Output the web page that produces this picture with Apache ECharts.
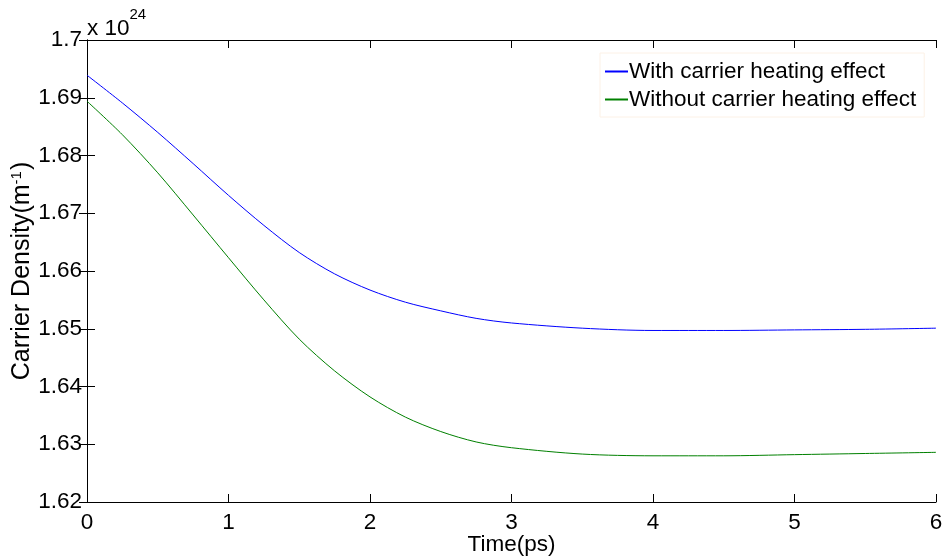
<!DOCTYPE html>
<html>
<head>
<meta charset="utf-8">
<script src="https://cdn.jsdelivr.net/npm/echarts@6/dist/echarts.min.js"></script>
<style>html,body{margin:0;padding:0;background:#fff}#c{width:946px;height:559px}</style>
</head>
<body>
<div id="c"></div>
<script>
const timePs = [0, 0.25, 0.5, 0.75, 1, 1.25, 1.5, 1.75, 2, 2.25, 2.5, 2.75, 3, 3.5, 4, 4.5, 5, 5.5, 6];
const withHeating = [1.6939, 1.6891, 1.6840, 1.6786, 1.6731, 1.6679, 1.6632, 1.6595, 1.6567, 1.6546, 1.6531, 1.6518, 1.6510, 1.6501, 1.6497, 1.6497, 1.6498, 1.6499, 1.6501];
const withoutHeating = [1.6894, 1.6836, 1.6770, 1.6697, 1.6623, 1.6550, 1.6482, 1.6427, 1.6382, 1.6347, 1.6322, 1.6304, 1.6294, 1.6283, 1.6280, 1.6280, 1.6282, 1.6284, 1.6286];
const seriesNames = ['With carrier heating effect', 'Without carrier heating effect'];
const xTicks = [0, 1, 2, 3, 4, 5, 6];
const yTicks = [1.62, 1.63, 1.64, 1.65, 1.66, 1.67, 1.68, 1.69, 1.7];

const FONT = "'Liberation Sans', Arial, sans-serif";
const FS = 22.5;
const chart = echarts.init(document.getElementById('c'), null, {renderer: 'canvas'});
const pair = (xs, ys) => xs.map((x, i) => [x, ys[i]]);
const axisCommon = {
  axisLine: {show: true, lineStyle: {color: '#000', width: 1}},
  axisTick: {show: true, inside: true, length: 8, lineStyle: {color: '#000', width: 1}},
  splitLine: {show: false}
};
chart.setOption({
  animation: false,
  backgroundColor: '#fff',
  textStyle: {fontFamily: FONT},
  grid: {left: 87, right: 10, top: 40, bottom: 57, containLabel: false, outerBoundsMode: 'none'},
  legend: {
    orient: 'vertical',
    left: 600, top: 53, width: 332,
    padding: [6, 8, 5, 5],
    borderColor: '#fcf1e6', borderWidth: 1,
    backgroundColor: '#fff',
    itemWidth: 23, itemHeight: 2, itemGap: 3,
    icon: 'rect',
    textStyle: {fontFamily: FONT, fontSize: FS, color: '#000', padding: [0, 0, 0, -4], lineHeight: 25},
    data: seriesNames
  },
  xAxis: [
    Object.assign({}, axisCommon, {
      type: 'value', min: xTicks[0], max: xTicks[xTicks.length - 1], interval: 1,
      position: 'bottom',
      name: 'Time(ps)', nameLocation: 'middle', nameGap: 31, nameMoveOverlap: false,
      nameTextStyle: {fontFamily: FONT, fontSize: FS, color: '#000'},
      axisLabel: {fontFamily: FONT, fontSize: FS, color: '#000', margin: 9}
    }),
    Object.assign({}, axisCommon, {
      type: 'value', min: xTicks[0], max: xTicks[xTicks.length - 1], interval: 1,
      position: 'top', axisLabel: {show: false}
    })
  ],
  yAxis: [
    Object.assign({}, axisCommon, {
      type: 'value', min: yTicks[0], max: yTicks[yTicks.length - 1], interval: 0.01,
      position: 'left',
      name: '{n|Carrier Density(m}{s|-1}{n|)}', nameLocation: 'middle', nameGap: 51, nameMoveOverlap: false,
      nameTextStyle: {fontFamily: FONT, fontSize: 25, color: '#000',
        rich: {n: {fontFamily: FONT, fontSize: 25, color: '#000'},
               s: {fontFamily: FONT, fontSize: 15, color: '#000', verticalAlign: 'top', padding: [0, 1, 12, 0]}}},
      axisLabel: {fontFamily: FONT, fontSize: FS, color: '#000', margin: 5,
        formatter: v => String(+v.toFixed(2))}
    }),
    Object.assign({}, axisCommon, {
      type: 'value', min: yTicks[0], max: yTicks[yTicks.length - 1], interval: 0.01,
      position: 'right', axisLabel: {show: false}
    })
  ],
  graphic: [{
    type: 'text', left: 87, top: 7,
    style: {
      text: '{a|x 10}{b|24}',
      rich: {a: {fontFamily: FONT, fontSize: FS, fill: '#000', padding: [14, 0, 0, 0]},
             b: {fontFamily: FONT, fontSize: 15, fill: '#000', padding: [0, 0, 14, 0]}}
    }
  }],
  series: [
    {name: seriesNames[0], type: 'line', xAxisIndex: 0, yAxisIndex: 0, data: pair(timePs, withHeating),
     smooth: 0.3, showSymbol: false, symbol: 'none', lineStyle: {color: '#0000ff', width: 1}, itemStyle: {color: '#0000ff'}},
    {name: seriesNames[1], type: 'line', xAxisIndex: 0, yAxisIndex: 0, data: pair(timePs, withoutHeating),
     smooth: 0.3, showSymbol: false, symbol: 'none', lineStyle: {color: '#008000', width: 1}, itemStyle: {color: '#008000'}}
  ]
});
</script>
</body>
</html>
